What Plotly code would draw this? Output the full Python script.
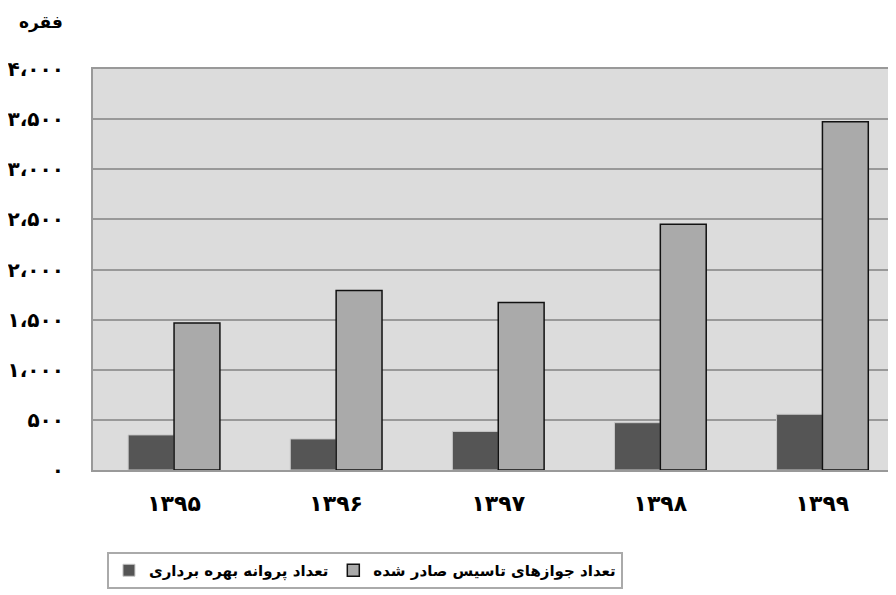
import plotly.graph_objects as go

years = ["۱۳۹۵", "۱۳۹۶", "۱۳۹۷", "۱۳۹۸", "۱۳۹۹"]
operating_permits = [350, 310, 385, 472, 556]
establishment_licenses = [1467, 1790, 1670, 2452, 3473]
y_tickvals = [0, 500, 1000, 1500, 2000, 2500, 3000, 3500, 4000]
y_ticktext = ["۰", "۵۰۰", "۱،۰۰۰", "۱،۵۰۰", "۲،۰۰۰", "۲،۵۰۰", "۳،۰۰۰", "۳،۵۰۰", "۴،۰۰۰"]
name_operating = "تعداد پروانه بهره برداری"
name_establish = "تعداد جوازهای تاسیس صادر شده"
unit_label = "فقره"

OFF = 8  # page offset of the figure (body margin)
W, H = 896 - OFF, 595 - OFF
ml, mr, mt, mb = 93 - OFF, 0, 69 - OFF, H - (470 - OFF)
pw = W - ml - mr
ph = H - mt - mb

FONT = "DejaVu Sans"

fig = go.Figure()
fig.add_trace(go.Bar(
    x=years, y=operating_permits, name=name_operating,
    marker=dict(color="#555555", line=dict(color="#c8c8c8", width=1)),
))
fig.add_trace(go.Bar(
    x=years, y=establishment_licenses, name=name_establish,
    marker=dict(color="#aaaaaa", line=dict(color="#111111", width=1.5)),
))

cat_px = 162.5
fig.update_layout(
    width=W, height=H,
    margin=dict(l=ml, r=mr, t=mt, b=mb, pad=0),
    paper_bgcolor="white",
    plot_bgcolor="#dcdcdc",
    barmode="group",
    bargap=0.434,
    bargroupgap=0,
    font=dict(family=FONT, color="black"),
    showlegend=True,
    legend=dict(
        orientation="h",
        x=(107 - 93) / pw, xanchor="left",
        y=-(552 - 470) / ph, yanchor="top",
        bgcolor="white",
        bordercolor="#aaaaaa", borderwidth=2,
        font=dict(family=FONT, size=15, color="black", weight="bold"),
        traceorder="normal",
    ),
    xaxis=dict(
        type="category",
        range=[-0.5, -0.5 + pw / cat_px],
        showgrid=False,
        showline=True, linecolor="#999999", linewidth=2, mirror=True,
        ticks="",
        ticklabelstandoff=13,
        tickfont=dict(family=FONT, size=22, color="black", weight="bold"),
    ),
    yaxis=dict(
        range=[0, 4000],
        tickvals=y_tickvals, ticktext=y_ticktext,
        showgrid=True, gridcolor="#999999", gridwidth=1.5,
        showline=True, linecolor="#999999", linewidth=2, mirror=True,
        zeroline=False,
        ticks="",
        ticklabelstandoff=23,
        tickfont=dict(family=FONT, size=20, color="black", weight="bold"),
    ),
)

fig.add_annotation(
    text=unit_label, xref="paper", yref="paper",
    x=(41 - 93) / pw, y=1 + (69 - 22) / ph,
    xanchor="center", yanchor="middle", showarrow=False,
    font=dict(family=FONT, size=17, color="black", weight="bold"),
)

fig.write_html("out.html")
